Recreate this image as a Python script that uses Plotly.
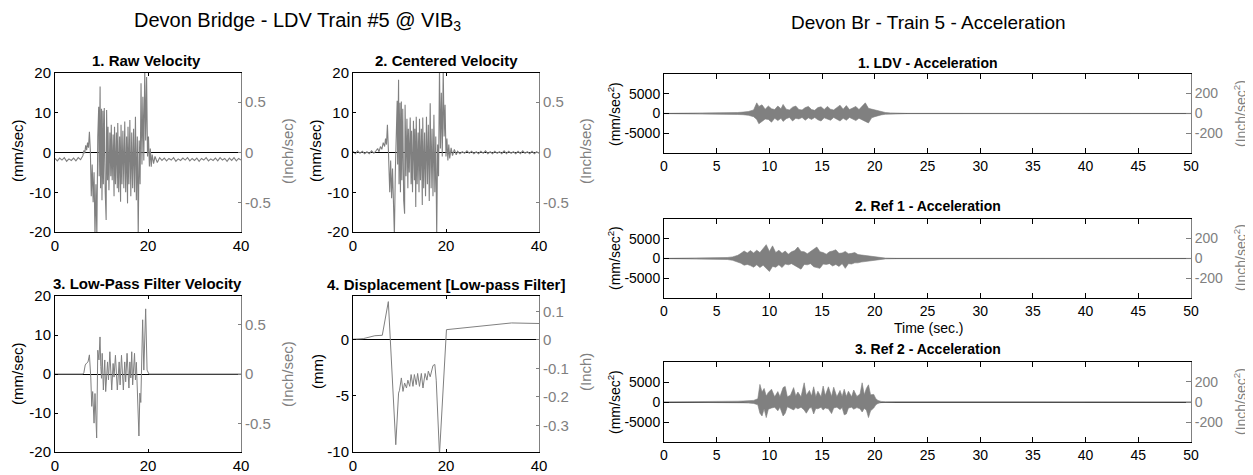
import numpy as np
import plotly.graph_objects as go

W, H = 1253, 475
OFF = 8   # the page body margin shifts the figure by 8 px
GREY = "rgb(128,128,128)"
FONT = "Arial, 'Liberation Sans', sans-serif"
MM_PER_INCH = 25.4

# ---------------- data ----------------
# 1. Raw velocity (mm/sec)
raw_base_pre = [-1.5, -2.1, -1.4, -1.9, -1.3, -2.2, -1.6, -2.0, -1.4, -2.1, -1.3, -1.8]   # t = 0 .. 5.5 step 0.5
raw_act_t = [6.0, 6.2, 6.4, 6.6, 6.8, 7.0, 7.2, 7.4, 7.6, 7.8, 8.0, 8.2, 8.4, 8.6, 8.8, 9.0, 9.2, 9.4, 9.5, 9.7,
             9.8, 10.0, 10.1, 10.3, 10.4, 10.6, 10.8, 11.0, 11.1, 11.3, 11.4, 11.6, 11.8, 12.0, 12.1, 12.3, 12.5,
             12.7, 12.8, 13.0, 13.2, 13.4, 13.5, 13.7, 13.9, 14.1, 14.2, 14.4, 14.6, 14.8, 15.0, 15.2, 15.4, 15.6,
             15.7, 15.9, 16.1, 16.3, 16.5, 16.7, 16.9, 17.1, 17.3, 17.5, 17.7, 17.9, 18.1, 18.3, 18.5, 18.7, 18.9,
             19.1, 19.3, 19.5, 19.7, 19.9, 20.1, 20.3, 20.5, 20.7, 20.9, 21.2, 21.5, 22.0]
raw_act_v = [-0.8, 0.5, -0.2, 1.8, 0.6, 2.5, 1.2, 5.2, 0.5, -11.0, -3.0, -12.5, -5.0, -21.0, -8.0, -21.0, 4.0, 11.5, -6.0, 16.6,
             -9.0, 11.0, -12.0, 10.5, -8.0, 11.2, -10.0, -17.0, 10.7, -7.0, 6.5, -9.5, 5.0, -6.0, 7.0, -7.0, 4.5,
             -11.0, 6.5, -8.0, 5.0, -9.0, 7.4, -10.0, 4.0, -12.4, 7.0, -8.0, 5.5, -9.0, 7.8, -10.0, 4.0, -12.8,
             6.5, -8.0, 8.2, -11.0, 5.0, -9.0, 6.0, -10.0, 9.0, -12.0, 4.0, -21.0, 3.0, -8.0, 17.4, -3.0, 14.0,
             -2.0, 21.0, 3.0, 19.0, -1.0, 4.0, -3.5, 1.0, -3.6, -0.5, -2.8, -1.0, -2.5]
raw_base_post = [-1.3, -2.0, -1.4, -2.1, -1.5, -1.9, -1.3, -2.2, -1.6, -2.0, -1.4, -1.9, -1.3, -2.1, -1.5, -2.0, -1.4, -2.2,
                 -1.5, -1.9, -1.3, -2.1, -1.6, -2.0, -1.4, -2.1, -1.3, -1.9, -1.5, -2.2, -1.4, -2.0, -1.3, -2.1, -1.5, -1.9]  # t = 22.5 .. 40

# 2. Centered velocity (mm/sec)
cen_base_pre = [0.3, -0.3, 0.4, -0.2, 0.3, -0.3, 0.2, -0.3, 0.4, -0.2, 0.5]   # t = 0 .. 5.0 step 0.5
cen_act_t = [5.3, 5.6, 5.9, 6.2, 6.5, 6.8, 7.0, 7.2, 7.4, 7.6, 7.9, 8.1, 8.3, 8.5, 8.7, 8.9, 9.1, 9.3, 9.5, 9.6,
             9.8, 9.9, 10.1, 10.2, 10.4, 10.5, 10.7, 10.9, 11.1, 11.2, 11.4, 11.6, 11.8, 11.9, 12.1, 12.3, 12.5,
             12.6, 12.8, 13.0, 13.2, 13.3, 13.5, 13.6, 13.8, 14.0, 14.2, 14.3, 14.5, 14.7, 14.9, 15.0, 15.2, 15.4,
             15.6, 15.8, 16.0, 16.2, 16.4, 16.6, 16.8, 17.0, 17.2, 17.4, 17.6, 17.8, 18.0, 18.2, 18.4, 18.6, 18.8,
             19.0, 19.2, 19.4, 19.6, 19.8, 20.0, 20.2, 20.4, 20.6, 20.8, 21.1, 21.4, 21.8, 22.2]
cen_act_v = [1.0, 0.2, 1.5, 0.8, 2.5, 1.5, 3.5, 2.0, 7.0, 1.0, -10.0, -2.0, -11.5, -4.0, -17.0, -21.0, -5.0, 5.0, 13.0, -3.0,
             18.3, -8.0, 12.5, -10.0, 12.8, -7.0, 11.0, -12.0, -15.4, 12.0, -6.0, 8.5, -9.0, 6.0, -5.0, 8.8, -8.0,
             5.5, -10.0, 8.0, -7.0, 6.0, -13.7, 9.0, -8.0, 5.0, -10.0, 8.5, -7.0, 6.0, -13.2, 8.8, -9.0, 5.0,
             -11.0, 9.0, -8.0, 7.0, -12.2, 12.4, -9.0, 6.0, -11.0, 9.5, -10.0, 4.0, -21.0, 2.0, -6.0, 21.0, 1.0,
             15.0, -1.0, 21.0, 4.0, 12.0, -1.0, 3.5, -2.0, 2.0, -1.5, 1.2, -0.8, 0.8, -0.6]
cen_base_post = [0.3, -0.3, 0.2, -0.2, 0.4, -0.2, 0.3, -0.3, 0.2, -0.3, 0.3, -0.2, 0.4, -0.3, 0.2, -0.3, 0.3, -0.2,
                 0.2, -0.3, 0.4, -0.3, 0.3, -0.2, 0.2, -0.3, 0.3, -0.3, 0.4, -0.2, 0.2, -0.3, 0.3, -0.3, 0.2, -0.2]  # t = 22.5 .. 40

# 3. Low-pass filter velocity (mm/sec)
lp_t = [0.0, 6.0, 6.2, 6.5, 6.8, 7.1, 7.4, 7.7, 7.9, 8.1, 8.4, 8.6, 8.96, 9.2, 9.45, 9.68, 9.85, 10.0, 10.15, 10.4,
        10.7, 10.9, 11.3, 11.5, 11.8, 12.2, 12.5, 12.7, 13.0, 13.4, 13.8, 14.0, 14.3, 14.7, 15.0, 15.2, 15.5, 15.9,
        16.1, 16.3, 16.5, 16.7, 17.1, 17.3, 17.5, 17.8, 18.05, 18.25, 18.45, 18.85, 19.1, 19.5, 19.8, 20.2, 40.0]
lp_v = [0.0, 0.0, 0.3, 2.3, 2.8, 3.1, 4.9, -1.0, -8.3, -4.5, -12.6, -5.0, -16.4, 6.1, 3.6, 9.5, 1.9, -1.1, 5.3, -4.1,
        3.6, -4.5, 3.1, -1.5, 5.7, -4.1, 2.7, -0.8, 4.8, -4.1, 3.1, -2.8, 4.8, -4.1, 3.1, -2.0, 5.3, -3.6,
        3.1, -1.0, 5.7, -2.8, 5.3, -1.5, 3.0, -5.8, -15.9, -4.9, -7.3, 13.9, 1.0, 16.7, 1.0, 0.0, 0.0]

# 4. Displacement, low-pass filtered (mm)
disp_t = [0.0, 2.2, 4.7, 6.3, 7.6, 9.2, 9.8, 10.0, 10.4, 10.75, 11.1, 11.5, 11.8, 12.2, 12.5, 12.9, 13.2, 13.6, 13.9,
          14.3, 14.7, 15.05, 15.5, 15.9, 16.2, 16.6, 17.2, 17.6, 17.9, 18.6, 20.1, 34.1, 40.0]
disp_v = [0.05, 0.1, 0.36, 0.4, 3.4, -9.35, -4.75, -4.5, -3.4, -4.6, -3.85, -4.3, -3.6, -4.15, -3.1, -4.15, -3.1, -4.0, -3.0,
          -4.15, -3.0, -4.3, -3.0, -3.6, -2.8, -3.3, -2.3, -2.2, -3.6, -10.2, 0.9, 1.5, 1.45]

# Acceleration envelopes (mm/sec^2): time, upper, lower
ldv_t = [0, 4.0, 5.0, 6.0, 7.0, 7.5, 8.0, 8.5, 8.8, 9.0, 9.3, 9.6, 9.9, 10.2, 10.5, 10.8, 11.1, 11.3, 11.6, 11.9, 12.2,
         12.5, 12.8, 13.1, 13.4, 13.7, 14.0, 14.3, 14.6, 14.9, 15.2, 15.5, 15.8, 16.1, 16.4, 16.7, 17.0, 17.3,
         17.6, 17.9, 18.2, 18.5, 18.8, 19.1, 19.4, 19.7, 20.0, 20.3, 20.6, 21.0, 21.5, 22.0, 23.0, 50]
ldv_up = [30, 60, 100, 150, 250, 350, 500, 900, 2700, 1800, 2200, 1100, 1900, 1200, 1000, 1900, 1200, 2300, 1100, 900, 1600,
          1900, 1000, 900, 1500, 1800, 1000, 800, 1500, 1700, 1000, 1800, 1100, 900, 1600, 2100, 1100, 2000,
          1000, 1500, 1800, 1000, 2000, 2700, 1300, 1100, 900, 600, 400, 250, 150, 80, 40, 30]
ldv_lo = [-30, -60, -100, -150, -250, -300, -450, -800, -1500, -2600, -2000, -1400, -1500, -2200, -1200, -1800, -1200, -2000, -1300,
          -1000, -1900, -1200, -1400, -1000, -1700, -1100, -1500, -1000, -1600, -1900, -1100, -1500, -1700, -1000,
          -1500, -1900, -1200, -1700, -1000, -1500, -1800, -1200, -1700, -2000, -2400, -1100, -800, -500, -350,
          -200, -120, -80, -40, -30]

ref1_t = [0, 4.0, 5.0, 5.5, 6.0, 6.5, 7.0, 7.3, 7.6, 7.9, 8.2, 8.5, 8.8, 9.1, 9.4, 9.7, 10.0, 10.3, 10.6, 10.9, 11.2,
          11.5, 11.8, 12.1, 12.4, 12.7, 13.0, 13.3, 13.6, 13.9, 14.2, 14.5, 14.8, 15.1, 15.4, 15.7, 16.0, 16.3,
          16.6, 16.9, 17.2, 17.5, 17.8, 18.1, 18.4, 18.7, 19.0, 19.4, 19.8, 20.2, 20.6, 21.0, 22.0, 50]
ref1_up = [30, 50, 80, 150, 250, 400, 800, 1300, 1900, 1400, 2000, 1400, 2100, 1500, 2400, 3500, 1800, 3200, 1500, 2100, 1300,
           1900, 1100, 1700, 2000, 2900, 1800, 1700, 1200, 1800, 2300, 2900, 1700, 1500, 1100, 1700, 1900, 2200,
           1300, 1400, 1800, 1200, 1300, 1500, 1000, 900, 750, 600, 450, 300, 180, 100, 50, 30]
ref1_lo = [-30, -50, -80, -150, -250, -450, -900, -1200, -1700, -1500, -1800, -2200, -1600, -2300, -1700, -2600, -3300, -2000,
           -2200, -1600, -2300, -1400, -1600, -1300, -1800, -2200, -2700, -1500, -1600, -1300, -2100, -2300, -2500,
           -1400, -1500, -1300, -1900, -1500, -2000, -1300, -2500, -1300, -1400, -1100, -1100, -900, -800, -650,
           -450, -300, -180, -100, -50, -30]

ref2_t = [0, 4.0, 5.5, 6.5, 7.0, 7.5, 8.0, 8.5, 8.9, 9.1, 9.3, 9.5, 9.7, 9.9, 10.2, 10.5, 10.8, 11.0, 11.3, 11.5,
          11.7, 12.0, 12.3, 12.5, 12.7, 13.0, 13.3, 13.5, 13.8, 14.0, 14.2, 14.4, 14.6, 14.9, 15.1, 15.3, 15.6,
          15.9, 16.1, 16.4, 16.7, 16.9, 17.1, 17.3, 17.5, 17.8, 18.0, 18.3, 18.6, 18.8, 19.0, 19.2, 19.4, 19.6,
          19.9, 20.1, 20.3, 20.6, 21.0, 22.0, 50]
ref2_up = [30, 40, 60, 150, 200, 250, 300, 400, 800, 4400, 2500, 3400, 1500, 2400, 3200, 1300, 2600, 1300, 3600, 3900,
           1300, 1700, 3600, 1500, 2500, 1300, 4800, 1700, 2900, 1500, 3800, 1300, 2700, 1300, 4000, 1600, 3800,
           1400, 3700, 1300, 2900, 1400, 3200, 1400, 2700, 1300, 3000, 1400, 2000, 4800, 1800, 3400, 4300, 1800,
           1900, 800, 400, 150, 80, 40, 30]
ref2_lo = [-30, -40, -60, -100, -150, -200, -250, -350, -700, -2800, -3500, -1700, -3900, -1800, -1500, -1300, -2200, -1300,
           -3500, -2800, -1200, -1600, -2000, -1400, -1700, -1300, -2000, -2800, -1500, -1400, -3000, -1600, -1700,
           -1300, -2000, -1500, -1700, -2900, -1500, -1300, -1900, -1400, -3200, -3000, -1500, -1300, -1800, -1400,
           -1700, -2500, -1600, -2000, -3900, -2200, -1500, -700, -350, -150, -80, -40, -30]

# tick labels
vel_ticks = [20, 10, 0, -10, -20]
vel_ticks_in = [0.5, 0, -0.5]
disp_ticks = [0, -5, -10]
disp_ticks_in = [0.1, 0, -0.1, -0.2, -0.3]
acc_ticks = [5000, 0, -5000]
acc_ticks_in = [200, 0, -200]
t40_ticks = [0, 20, 40]
t50_ticks = [0, 5, 10, 15, 20, 25, 30, 35, 40, 45, 50]

# ---------------- assemble series ----------------
raw_t = list(np.arange(0, 5.51, 0.5)) + raw_act_t + list(np.arange(22.5, 40.01, 0.5))
raw_v = raw_base_pre + raw_act_v + raw_base_post
cen_t = list(np.arange(0, 5.01, 0.5)) + cen_act_t + list(np.arange(22.5, 40.01, 0.5))
cen_v = cen_base_pre + cen_act_v + cen_base_post


def lab(v):
    return f"{v:g}"


# ---------------- layout geometry (screen pixel boxes) ----------------
def fx(p):
    return (p - OFF) / W


def fy(p):
    return 1 - (p - OFF) / H


panels = {
    1: (55, 241, 73, 232),
    2: (353, 539, 73, 232),
    3: (55, 241, 296, 452),
    4: (353, 539, 296, 452),
    5: (664, 1191, 74, 153),
    6: (664, 1191, 219, 298),
    7: (664, 1191, 362, 442),
}

fig = go.Figure()
line_style = dict(color=GREY, width=1.1)

fig.add_trace(go.Scatter(x=raw_t, y=raw_v, mode="lines", line=line_style, xaxis="x", yaxis="y"))
fig.add_trace(go.Scatter(x=cen_t, y=cen_v, mode="lines", line=line_style, xaxis="x2", yaxis="y2"))
fig.add_trace(go.Scatter(x=lp_t, y=lp_v, mode="lines", line=dict(color=GREY, width=1), xaxis="x3", yaxis="y3"))
fig.add_trace(go.Scatter(x=disp_t, y=disp_v, mode="lines", line=dict(color=GREY, width=1), xaxis="x4", yaxis="y4"))

for k, (tt, up, lo) in zip([5, 6, 7], [(ldv_t, ldv_up, ldv_lo), (ref1_t, ref1_up, ref1_lo), (ref2_t, ref2_up, ref2_lo)]):
    fig.add_trace(go.Scatter(x=tt, y=up, mode="lines", line=dict(color=GREY, width=0.6),
                             xaxis=f"x{k}", yaxis=f"y{k}"))
    fig.add_trace(go.Scatter(x=tt, y=lo, mode="lines", line=dict(color=GREY, width=0.6),
                             fill="tonexty", fillcolor=GREY, xaxis=f"x{k}", yaxis=f"y{k}"))

yspec = {
    1: ([-20, 20], vel_ticks, vel_ticks_in),
    2: ([-20, 20], vel_ticks, vel_ticks_in),
    3: ([-20, 20], vel_ticks, vel_ticks_in),
    4: ([-10, 3.9], disp_ticks, disp_ticks_in),
    5: ([-10000, 10000], acc_ticks, acc_ticks_in),
    6: ([-10000, 10000], acc_ticks, acc_ticks_in),
    7: ([-10000, 10000], acc_ticks, acc_ticks_in),
}

lay = {}
for k, (x0, x1, y0, y1) in panels.items():
    xs = "" if k == 1 else str(k)
    xt = t40_ticks if k <= 4 else t50_ticks
    xr = [0, 40] if k <= 4 else [0, 50]
    tl = 3 if k <= 4 else 5
    ts = 15 if k <= 4 else 14
    tf = dict(family=FONT, size=ts, color="black")
    tfg = dict(family=FONT, size=ts, color=GREY)
    lay[f"xaxis{xs}"] = dict(domain=[fx(x0), fx(x1)], range=xr, anchor=f"y{xs}", automargin=False,
                             showline=True, linecolor="black", linewidth=1, mirror="ticks",
                             ticks="inside", ticklen=tl, tickcolor="black",
                             tickvals=xt, ticktext=[lab(v) for v in xt], tickfont=tf,
                             showgrid=False, zeroline=False, layer="above traces", fixedrange=True)
    yr, yt, yti = yspec[k]
    lay[f"yaxis{xs}"] = dict(domain=[fy(y1), fy(y0)], range=yr, anchor=f"x{xs}", automargin=False,
                             showline=True, linecolor="black", linewidth=1,
                             ticks="inside", ticklen=tl, tickcolor="black",
                             tickvals=yt, ticktext=[lab(v) for v in yt], tickfont=tf,
                             showgrid=False, zeroline=True, zerolinecolor="black", zerolinewidth=1.3,
                             layer="above traces", fixedrange=True)
    r2 = 7 + k
    lay[f"yaxis{r2}"] = dict(overlaying=f"y{xs}", side="right", anchor=f"x{xs}", automargin=False,
                             range=[yr[0] / MM_PER_INCH, yr[1] / MM_PER_INCH],
                             showline=True, linecolor=GREY, linewidth=1,
                             ticks="inside", ticklen=tl, tickcolor=GREY,
                             tickvals=yti, ticktext=[lab(v) for v in yti], tickfont=tfg,
                             showgrid=False, zeroline=False, fixedrange=True)

# invisible traces so the right-hand axes exist
for k in panels:
    xs = "" if k == 1 else str(k)
    fig.add_trace(go.Scatter(x=[None], y=[None], mode="lines", xaxis=f"x{xs}", yaxis=f"y{7 + k}",
                             showlegend=False, hoverinfo="skip"))

ann = []


def text(x, y, s, size=15, color="black", angle=0, bold=False):
    ann.append(dict(x=fx(x), y=fy(y), xref="paper", yref="paper", text=(f"<b>{s}</b>" if bold else s),
                    showarrow=False, textangle=angle, xanchor="center", yanchor="middle",
                    font=dict(family=FONT, size=size, color=color)))


# main titles
text(297, 21, "Devon Bridge - LDV Train #5 @ VIB<sub>3</sub>", size=20)
text(928, 22, "Devon Br - Train 5 - Acceleration", size=19)

# subplot titles
text(146, 61, "1. Raw Velocity", bold=True)
text(446, 61, "2. Centered Velocity", bold=True)
text(147, 283, "3. Low-Pass Filter Velocity", bold=True)
text(446, 284, "4. Displacement [Low-pass Filter]", bold=True)
text(928, 63, "1. LDV - Acceleration", size=14, bold=True)
text(928, 206, "2. Ref 1 - Acceleration", size=14, bold=True)
text(928, 349, "3. Ref 2 - Acceleration", size=14, bold=True)

# axis titles
for (lx, rx, cy, lt, rt) in [(17, 287, 151, "(mm/sec)", "(Inch/sec)"),
                             (315, 585, 151, "(mm/sec)", "(Inch/sec)"),
                             (17, 287, 374, "(mm/sec)", "(Inch/sec)"),
                             (317, 585, 372, "(mm)", "(Inch)")]:
    text(lx, cy, lt, angle=-90)
    text(rx, cy, rt, angle=-90, color=GREY)
for cy in [114, 258, 402]:
    text(614, cy, "(mm/sec<sup>2</sup>)", size=14, angle=-90)
    text(1240, cy, "(Inch/sec<sup>2</sup>)", size=14, angle=-90, color=GREY)
text(928, 328, "Time (sec.)", size=14)

fig.update_layout(
    width=W, height=H, margin=dict(l=0, r=0, t=0, b=0, autoexpand=False),
    paper_bgcolor="white", plot_bgcolor="white", showlegend=False,
    font=dict(family=FONT, size=15, color="black"),
    annotations=ann, **lay)

fig.write_html("out.html")
